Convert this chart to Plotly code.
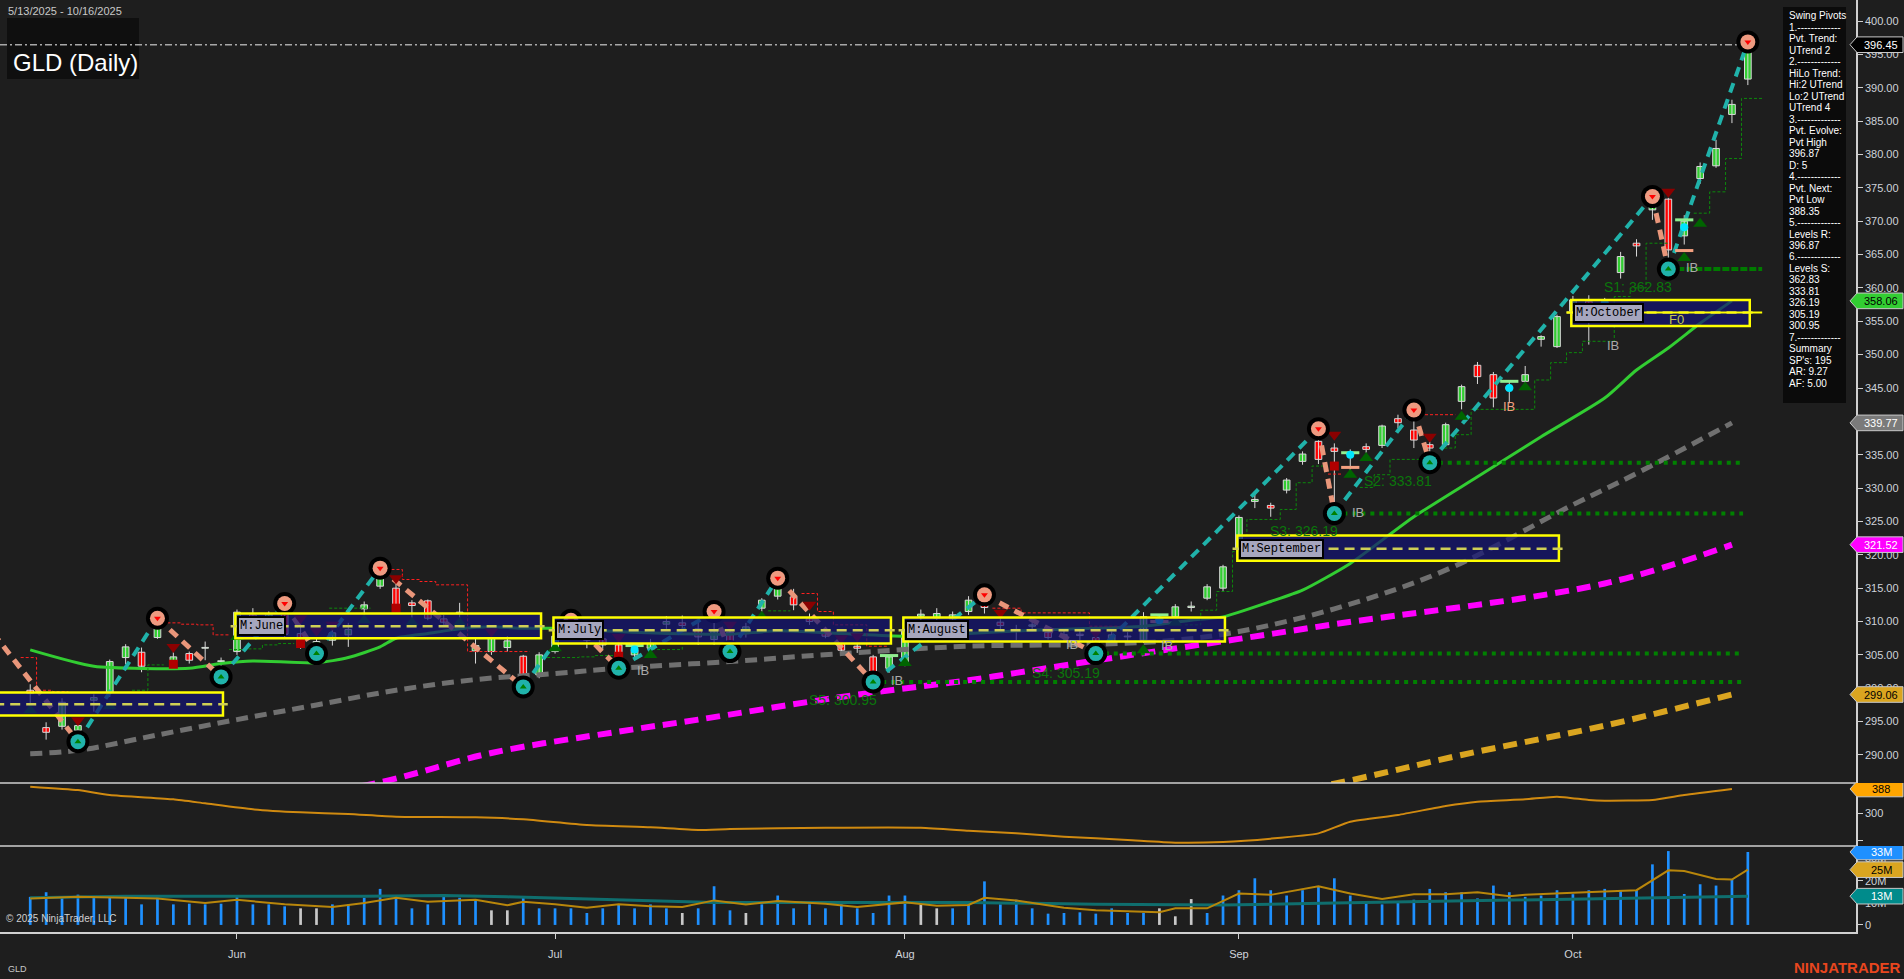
import plotly.graph_objects as go
import pandas as pd

# ------------------------------------------------------------------ data
HOLIDAYS = ["2025-05-26", "2025-06-19", "2025-07-04", "2025-09-01"]
DATES = [d for d in pd.bdate_range("2025-05-13", "2025-10-16")
         if d.strftime("%Y-%m-%d") not in HOLIDAYS]

OPEN = [299.7, 294.1, 294.3, 293.7, 298.2, 299.4, 304.6, 305.4, 307.6, 304.0,
        305.2, 306.0, 304.0, 305.5, 311.0, 310.6, 311.2, 308.2, 306.5, 307.2,
        308.0, 311.9, 315.3, 315.0, 312.8, 313.1, 310.4, 311.2, 305.6, 305.5,
        306.1, 304.8, 302.0, 305.5, 308.0, 308.7, 307.4, 306.5, 305.0, 306.0,
        309.6, 309.8, 308.9, 307.3, 308.4, 308.2, 312.0, 313.8, 313.7, 310.4,
        308.3, 306.7, 306.3, 304.7, 303.0, 303.8, 310.8, 310.5, 310.4, 311.5,
        312.9, 309.9, 308.8, 309.3, 308.4, 308.0, 308.1, 307.6, 306.8, 307.8,
        307.2, 310.5, 310.7, 312.1, 313.5, 315.0, 320.9, 328.0, 327.4, 329.7,
        334.0, 337.0, 336.0, 335.0, 336.2, 336.4, 340.4, 338.7, 336.5, 336.5,
        343.0, 348.4, 347.0, 344.8, 346.0, 352.3, 351.2, 356.5, 358.0, 356.0,
        362.3, 366.7, 371.7, 373.3, 367.8, 376.4, 378.3, 386.0, 391.3]
HIGH = [300.6, 294.9, 298.5, 294.6, 299.1, 304.3, 306.6, 306.1, 310.5, 305.4,
        305.5, 307.0, 304.6, 311.8, 312.0, 311.5, 312.7, 310.6, 307.5, 309.3,
        309.8, 313.0, 318.0, 315.8, 313.2, 313.3, 311.0, 312.8, 307.5, 307.9,
        307.8, 305.0, 305.4, 308.3, 310.2, 309.0, 308.2, 306.9, 306.1, 307.4,
        310.8, 310.9, 310.2, 311.5, 308.8, 309.8, 313.5, 316.5, 314.9, 311.2,
        308.9, 307.3, 306.8, 305.0, 304.9, 309.0, 311.8, 312.0, 311.5, 313.8,
        314.0, 310.5, 309.5, 310.0, 308.9, 308.6, 308.6, 308.0, 308.5, 308.4,
        311.4, 311.0, 312.6, 313.0, 315.6, 318.5, 325.9, 329.2, 327.8, 331.5,
        335.5, 338.9, 336.7, 335.8, 336.7, 339.5, 341.0, 341.7, 337.0, 339.8,
        345.5, 348.9, 347.4, 346.0, 348.3, 352.9, 356.0, 358.8, 358.9, 358.5,
        365.4, 367.3, 373.7, 373.5, 370.9, 378.8, 382.2, 388.2, 396.87]
LOW = [297.0, 292.3, 293.8, 292.0, 296.5, 298.7, 303.6, 302.4, 307.4, 303.0,
       303.7, 304.2, 301.7, 305.0, 309.5, 309.6, 307.6, 305.9, 305.2, 306.4,
       306.2, 311.0, 314.9, 311.9, 310.3, 310.2, 309.5, 309.3, 303.7, 305.0,
       305.5, 300.2, 301.5, 305.2, 307.3, 306.0, 305.9, 303.0, 304.3, 305.4,
       308.9, 308.8, 306.5, 306.5, 305.5, 307.6, 311.5, 313.3, 311.7, 309.5,
       307.5, 305.3, 305.3, 300.95, 302.3, 303.3, 309.8, 309.8, 309.5, 311.0,
       311.2, 308.5, 307.2, 308.5, 307.3, 307.1, 307.2, 305.19, 306.4, 307.1,
       306.8, 309.5, 310.2, 311.5, 313.2, 314.6, 320.6, 327.0, 325.7, 329.2,
       333.5, 333.6, 326.19, 332.6, 335.3, 336.0, 339.0, 336.0, 333.81, 336.2,
       341.8, 345.6, 342.1, 342.7, 345.7, 351.2, 351.0, 355.8, 351.5, 355.5,
       361.4, 364.7, 370.2, 362.83, 366.5, 375.6, 378.0, 384.7, 390.4]
CLOSE = [299.2, 293.4, 297.9, 294.4, 298.6, 304.0, 306.2, 303.3, 309.8, 304.7,
         304.2, 306.1, 304.1, 311.4, 310.6, 311.1, 308.1, 306.4, 307.0, 308.3,
         308.8, 312.5, 316.8, 312.1, 312.4, 310.5, 309.9, 311.4, 306.4, 307.6,
         307.1, 301.9, 305.0, 307.8, 308.9, 307.2, 306.5, 304.5, 305.7, 306.7,
         310.0, 309.4, 307.7, 308.6, 307.0, 309.2, 313.2, 315.9, 312.5, 310.0,
         307.8, 305.7, 306.0, 302.5, 304.7, 308.6, 311.1, 311.2, 311.0, 313.2,
         312.1, 309.4, 308.7, 309.5, 307.6, 307.9, 307.9, 306.4, 308.0, 307.7,
         310.7, 310.1, 312.2, 312.3, 315.2, 318.2, 325.6, 328.3, 327.0, 331.2,
         335.1, 334.3, 335.5, 335.1, 335.8, 339.3, 339.8, 337.2, 336.0, 339.5,
         345.2, 346.7, 343.5, 345.2, 347.0, 352.7, 355.7, 358.2, 355.2, 357.8,
         364.7, 366.3, 372.4, 365.7, 370.0, 378.2, 380.9, 387.5, 396.45]
VOLUME_M = [12.7, 14.8, 12.3, 13.7, 12.3, 12.7, 12.7, 9.3, 12.3, 9.3,
            9.6, 9.3, 9.6, 13.3, 9.3, 9.3, 8.4, 7.5, 7.5, 9.3,
            9.3, 12.3, 16.3, 12.3, 7.5, 9.3, 13.3, 12.3, 11.4, 6.6,
            6.6, 12.7, 7.5, 7.5, 7.5, 5.4, 7.5, 9.3, 7.5, 9.3,
            7.5, 5.4, 7.5, 17.5, 6.6, 5.4, 9.3, 13.3, 7.5, 9.3,
            7.5, 9.3, 7.5, 5.4, 13.3, 13.3, 9.3, 7.5, 7.5, 9.3,
            19.7, 9.3, 11.4, 7.5, 5.1, 5.4, 5.7, 5.1, 7.5, 5.4,
            5.4, 7.5, 3.9, 11.7, 5.4, 13.3, 15.7, 21.1, 15.7, 13.3,
            15.7, 17.2, 21.1, 13.3, 10.6, 9.3, 10.6, 11.4, 16.3, 14.8,
            14.8, 12.0, 17.8, 14.8, 12.7, 13.3, 15.7, 13.9, 15.7, 16.3,
            15.7, 15.7, 27.4, 33.4, 14.0, 18.4, 17.8, 20.8, 33.0]
VOLUME_GRAY_BARS = [17, 18, 29, 30, 41, 45, 56, 57, 71, 72, 73]

# moving averages (bar index, value)
MA_FAST_BARS = [0, 4, 10, 12, 14, 18, 20, 22, 23, 25, 27, 29, 31, 33, 36, 40, 44, 47, 51,
                55, 59, 63, 67, 70, 73, 75, 78, 80, 83, 87, 91, 95, 99, 101, 103, 105, 107]
MA_FAST = [305.75, 303.3, 303.0, 303.7, 304.1, 303.8, 304.6, 306.2, 307.5, 308.2, 308.9,
           309.2, 309.0, 309.0, 308.6, 308.2, 308.1, 308.6, 308.2, 307.8, 308.2, 308.7,
           309.0, 309.3, 310.2, 310.7, 313.0, 314.7, 318.7, 325.7, 331.7, 337.7, 343.5,
           347.7, 351.0, 354.7, 358.06]
MA_MID_BARS = [0, 3, 8, 13, 18, 23, 28, 33, 37, 44, 51, 59, 67, 72, 76, 82, 89, 97, 101, 107]
MA_MID = [290.2, 290.7, 293.0, 295.3, 297.5, 299.7, 301.3, 302.2, 303.0, 304.0, 305.2,
          306.3, 306.6, 307.2, 308.5, 311.9, 317.7, 327.5, 332.2, 339.77]
MA_SLOW_BARS = [14, 22, 29, 37, 42, 51, 59, 62, 69, 76, 82, 99, 107]
MA_SLOW = [282.6, 285.9, 290.3, 293.5, 295.3, 298.7, 301.2, 302.3, 304.9, 307.4, 309.6,
           315.7, 321.52]
MA_LONG_BARS = [75, 82, 90, 99, 107]
MA_LONG = [282.8, 285.7, 290.0, 294.4, 299.06]

# oscillator (middle panel)
OSC_BARS = [0, 3, 5, 9, 11, 14, 17, 20, 23, 28, 31, 35, 39, 42, 44, 50, 56, 59, 62, 65,
            69, 72, 75, 78, 81, 83, 86, 89, 91, 94, 96, 98, 99, 102, 104, 107]
OSC = [396.6, 384, 366, 350, 335.4, 313.4, 302.4, 296.3, 286.5, 284, 276.8, 256, 247.4,
       237.7, 241.3, 246, 246, 235.2, 225.4, 213.2, 201, 191.2, 193.6, 205.9, 225.4, 268.2,
       292.7, 325.7, 341.5, 350.1, 359.9, 347.7, 345.2, 347.7, 366, 388]

# volume averages (bar index, millions)
VOL_FAST_BARS = [0, 3, 6, 8, 11, 13, 16, 19, 21, 23, 25, 28, 30, 31, 33, 35, 37, 39, 41,
                 43, 45, 47, 50, 52, 55, 57, 59, 60, 62, 65, 67, 69, 71, 72, 74, 76, 78,
                 81, 83, 85, 87, 89, 91, 93, 94, 97, 99, 101, 103, 104, 106, 107, 108]
VOL_FAST = [11.9, 12.7, 12.3, 11.9, 9.9, 11.4, 9.3, 8.1, 9.9, 12.3, 10.5, 11.4, 8.9, 10.5,
            9.3, 7.8, 9.3, 8.4, 8.1, 11.1, 9.3, 10.8, 9.6, 8.1, 10.2, 8.7, 9.0, 12.3, 11.1,
            7.8, 6.6, 6.0, 5.7, 7.5, 7.5, 14.2, 13.6, 17.5, 14.2, 11.7, 13.9, 13.9, 14.8,
            13.0, 13.6, 14.5, 15.1, 15.7, 24.7, 24.4, 20.8, 20.5, 25.0]
VOL_SLOW_BARS = [0, 6, 21, 26, 30, 36, 43, 52, 59, 67, 75, 82, 90, 98, 104, 108]
VOL_SLOW = [12.3, 13.0, 13.0, 13.3, 12.7, 11.4, 10.2, 10.2, 10.2, 9.3, 9.0, 9.9, 10.8,
            11.7, 12.7, 13.0]

# swing pivots (bar index, H/L) - first one lies before the visible data
PRE_PIVOT_BAR, PRE_PIVOT_PRICE = -3, 310.3
PIVOT_BARS = [3, 8, 12, 16, 18, 22, 31, 34, 37, 43, 44, 47, 53, 60, 67, 81, 82, 87, 88,
              102, 103, 108]
PIVOT_TYPES = ["L", "H", "L", "H", "L", "H", "L", "H", "L", "H", "L", "H", "L", "H", "L",
               "H", "L", "H", "L", "H", "L", "H"]

# support levels and the pivot bars they start from
LEVELS_S = [362.83, 333.81, 326.19, 305.19, 300.95]
LEVELS_S_BARS = [103, 88, 82, 67, 53]
LEVELS_S_LABEL_AT = [(101.1, 360.1), (86.0, 331.1), (80.1, 323.5), (65.1, 302.3), (51.1, 298.3)]

# monthly range boxes
BOX_MONTHS = [5, 6, 7, 8, 9, 10]
BOX_HIGH = [299.35, 311.2, 310.6, 310.6, 322.9, 358.2]
BOX_LOW = [295.9, 307.5, 306.7, 307.0, 319.1, 354.3]
BOX_MID = [297.6, 309.3, 308.7, 308.7, 320.9, 356.3]

# signal markers (bar, price)
SIG_UP = [(0, 296.7), (5, 297.3), (13, 307.7), (21, 310.2), (24, 309.8), (27, 309.8),
          (33, 306.0), (35, 308.4), (39, 305.0), (46, 310.7), (55, 303.8), (70, 305.7),
          (72, 309.8), (83, 332.0), (84, 334.5), (90, 340.7), (94, 345.1), (104, 364.5),
          (105, 369.6)]
SIG_DOWN = [(3, 295.2), (9, 306.2), (17, 310.5), (18, 308.6), (19, 309.5), (23, 316.5),
            (29, 308.5), (37, 307.7), (44, 309.5), (49, 312.5), (51, 307.5), (52, 307.8),
            (61, 311.3), (67, 308.3), (82, 338.0), (88, 337.7), (103, 374.4)]
RED_BLOCKS = [(9, 303.6), (17, 306.7), (23, 312.0), (37, 304.8), (82, 333.3)]
CYAN_DOTS = [(38, 305.8), (71, 310.2), (83, 335.0), (93, 345.0), (99, 357.7), (104, 369.1)]
CAPS_TOP = [(38, 306.4), (54, 304.9), (71, 311.0), (83, 335.3), (93, 346.0), (104, 370.2)]
CAPS_BOT = [(71, 310.0), (83, 333.1), (104, 365.6)]
IB_GRAY = [(38, 302.7), (54, 301.2), (65, 306.5), (71, 306.4), (83, 326.3), (99, 351.4),
           (104, 363.0)]
IB_SALMON = [(93, 342.2)]
F0_AT = (103.5, 355.3)

# trailing step lines
GREEN_STEPS = [
    [(6.4, 299.7), (7.4, 303.5), (8.4, 303.5)],
    [(12.5, 305.8), (13.6, 305.9), (14.6, 306.5), (15.6, 306.7), (16.6, 306.7)],
    [(18.8, 312.0), (21.4, 312.0)],
    [(32.5, 304.6), (34.5, 304.7), (35.5, 304.9), (37.0, 305.0)],
    [(39.1, 305.8), (41.0, 306.2)],
    [(46.4, 311.6), (47.8, 311.6)],
    [(72.6, 309.5), (73.6, 311.7), (74.6, 314.5), (75.6, 320.5), (76.5, 325.3), (78.6, 326.8),
     (79.6, 330.8), (80.6, 333.3), (81.6, 333.3)],
    [(83.6, 330.1), (84.5, 332.0), (85.5, 334.3), (87.9, 334.3)],
    [(88.6, 336.0), (89.6, 338.0), (90.6, 341.8), (94.6, 346.2), (95.6, 348.8), (96.6, 350.3),
     (97.6, 352.0), (99.6, 358.7), (100.6, 360.0), (101.6, 366.7), (103.1, 366.7)],
    [(104.6, 371.2), (105.6, 374.4), (106.6, 379.4), (107.6, 388.4), (108.9, 388.4)],
]
RED_STEPS = [
    [(-0.6, 304.6), (0.4, 299.7), (1.4, 299.5), (2.4, 299.5)],
    [(8.0, 309.8), (9.5, 309.6), (10.5, 309.5), (11.5, 308.0), (12.5, 308.0)],
    [(22.4, 317.8), (23.4, 316.3), (24.5, 316.0), (25.5, 315.5), (27.5, 305.5), (31.4, 305.5)],
    [(48.5, 314.2), (49.5, 311.5), (50.5, 309.5), (52.6, 306.3), (53.9, 306.3)],
    [(60.5, 312.0), (62.3, 311.3), (66.6, 309.3), (69.0, 309.3)],
    [(81.6, 332.1), (82.5, 332.1)],
    [(87.7, 341.0), (89.6, 341.0)],
]

PANEL_LINES = ["Swing Pivots", "1.-------------", "Pvt. Trend:", "UTrend 2", "2.-------------",
               "HiLo Trend:", "Hi:2 UTrend", "Lo:2 UTrend", "UTrend 4", "3.-------------",
               "Pvt. Evolve:", "Pvt High", "396.87", "D: 5", "4.-------------", "Pvt. Next:",
               "Pvt Low", "388.35", "5.-------------", "Levels R:", "396.87", "6.-------------",
               "Levels S:", "362.83", "333.81", "326.19", "305.19", "300.95", "7.-------------",
               "Summary", "SP's: 195", "AR: 9.27", "AF: 5.00"]

# ------------------------------------------------------------------ styling / layout
FONT = "Liberation Sans, Arial, sans-serif"
NARROW = "Liberation Sans Narrow, Liberation Sans, Arial, sans-serif"
MONO = "Liberation Mono, DejaVu Sans Mono, monospace"
BG = "#1e1e1e"
AXIS_C = "#cfd3da"
W, H = 1904, 979
PLOT_W, PLOT_H = 1856.0, 932.0
PRICE_RANGE = [285.8, 403.15]
OSC_RANGE = [179, 410]
VOL_RANGE = [-3.2, 35.7]
X_RANGE = [-1.90, 114.80]


def dom(top_px, bot_px):
    return [1 - bot_px / PLOT_H, 1 - top_px / PLOT_H]


def py(px):  # paper y from pixel row (plot area top = 0)
    return 1 - px / PLOT_H


def pxx(px):
    return px / PLOT_W


X = list(range(len(DATES)))
N = len(X)

fig = go.Figure()
shapes, annos = [], []

# ---------------- volume panel
vcol = ["#c8c8c8" if i in VOLUME_GRAY_BARS else "#1e90ff" for i in X]
fig.add_trace(go.Bar(x=X, y=VOLUME_M, width=0.17, marker=dict(color=vcol, line=dict(width=0)),
                     yaxis="y3", hoverinfo="skip"))
fig.add_trace(go.Scatter(x=VOL_SLOW_BARS, y=VOL_SLOW, yaxis="y3", mode="lines",
                         line=dict(color="#0f6e6e", width=3), hoverinfo="skip"))
fig.add_trace(go.Scatter(x=VOL_FAST_BARS, y=VOL_FAST, yaxis="y3", mode="lines",
                         line=dict(color="#b8860b", width=2), hoverinfo="skip"))

# ---------------- oscillator panel
fig.add_trace(go.Scatter(x=OSC_BARS, y=OSC, yaxis="y2", mode="lines",
                         line=dict(color="#d08a10", width=2, shape="spline", smoothing=0.5),
                         hoverinfo="skip"))

# ---------------- candles
wx, wy = [], []
for i in X:
    wx += [i, i, None]
    wy += [LOW[i], HIGH[i], None]
fig.add_trace(go.Scatter(x=wx, y=wy, mode="lines", line=dict(color="#d9d9d9", width=1),
                         hoverinfo="skip"))
base = [min(o, c) for o, c in zip(OPEN, CLOSE)]
hgt = [max(abs(c - o), 0.12) for o, c in zip(OPEN, CLOSE)]
ccol = ["#32cd32" if c >= o else "#ff0000" for o, c in zip(OPEN, CLOSE)]
fig.add_trace(go.Bar(x=X, y=hgt, base=base, width=0.42,
                     marker=dict(color=ccol, line=dict(color="#d9d9d9", width=1)),
                     hoverinfo="skip"))

# ---------------- moving averages
fig.add_trace(go.Scatter(x=MA_LONG_BARS, y=MA_LONG, mode="lines",
                         line=dict(color="#daa520", width=6, dash="14px,8px", shape="spline"),
                         hoverinfo="skip"))
fig.add_trace(go.Scatter(x=MA_SLOW_BARS, y=MA_SLOW, mode="lines",
                         line=dict(color="#ff00ff", width=6, dash="14px,8px", shape="spline"),
                         hoverinfo="skip"))
fig.add_trace(go.Scatter(x=MA_MID_BARS, y=MA_MID, mode="lines",
                         line=dict(color="#707070", width=5, dash="12px,7px", shape="spline"),
                         hoverinfo="skip"))
fig.add_trace(go.Scatter(x=MA_FAST_BARS, y=MA_FAST, mode="lines",
                         line=dict(color="#32cd32", width=3, shape="spline", smoothing=0.6),
                         hoverinfo="skip"))


def steps_trace(segs, color):
    sx, sy = [], []
    for seg in segs:
        for a, b in seg:
            sx.append(a)
            sy.append(b)
        sx.append(None)
        sy.append(None)
    return go.Scatter(x=sx, y=sy, mode="lines", connectgaps=False,
                      line=dict(color=color, width=1, dash="3px,2px", shape="hv"),
                      hoverinfo="skip")


fig.add_trace(steps_trace(GREEN_STEPS, "#0c8a0c"))
fig.add_trace(steps_trace(RED_STEPS, "#ff2020"))

# ---------------- support levels
last_bar = X[-1]
for k, (lvl, b0) in enumerate(zip(LEVELS_S, LEVELS_S_BARS)):
    if k == 0:
        ln = dict(color="#007a00", width=4, dash="7px,2px")
        xe = last_bar + 0.9
    else:
        ln = dict(color="#008000", width=4, dash="4px,5px")
        xe = last_bar - 0.3
    fig.add_trace(go.Scatter(x=[b0, xe], y=[lvl, lvl], mode="lines", line=ln, hoverinfo="skip"))
    lx, ly = LEVELS_S_LABEL_AT[k]
    annos.append(dict(x=lx, y=ly, xref="x", yref="y", text=f"S{k+1}: {lvl:.2f}",
                      showarrow=False, font=dict(family=NARROW, size=14, color="#0b760b")))

# ---------------- last price dash-dot line
fig.add_trace(go.Scatter(x=[X_RANGE[0], last_bar], y=[CLOSE[-1], CLOSE[-1]], mode="lines",
                         line=dict(color="#a8a8a8", width=1.5, dash="7px,3px,2px,3px"),
                         hoverinfo="skip"))

# ---------------- zigzag
pv_price = [HIGH[b] if t == "H" else LOW[b] for b, t in zip(PIVOT_BARS, PIVOT_TYPES)]
zb = [PRE_PIVOT_BAR] + PIVOT_BARS
zp = [PRE_PIVOT_PRICE] + pv_price
zt = ["H"] + PIVOT_TYPES
upx, upy, dnx, dny = [], [], [], []
for j in range(len(zb) - 1):
    seg_x = [zb[j], zb[j + 1], None]
    seg_y = [zp[j], zp[j + 1], None]
    if zt[j] == "L":
        upx += seg_x
        upy += seg_y
    else:
        dnx += seg_x
        dny += seg_y
fig.add_trace(go.Scatter(x=dnx, y=dny, mode="lines",
                         line=dict(color="#e9967a", width=5, dash="10px,7px"), hoverinfo="skip"))
fig.add_trace(go.Scatter(x=upx, y=upy, mode="lines",
                         line=dict(color="#20b2aa", width=4, dash="10px,7px"), hoverinfo="skip"))

# ---------------- markers


def pts(lst):
    return [p[0] for p in lst], [p[1] for p in lst]


ux, uy = pts(SIG_UP)
fig.add_trace(go.Scatter(x=ux, y=uy, mode="markers", hoverinfo="skip",
                         marker=dict(symbol="triangle-up", size=12, color="#006400")))
dx, dy = pts(SIG_DOWN)
fig.add_trace(go.Scatter(x=dx, y=dy, mode="markers", hoverinfo="skip",
                         marker=dict(symbol="triangle-down", size=12, color="#8b0000")))
rx, ry = pts(RED_BLOCKS)
fig.add_trace(go.Scatter(x=rx, y=ry, mode="markers", hoverinfo="skip",
                         marker=dict(symbol="square", size=9, color="#b00000")))
tx, ty = pts(CAPS_TOP)
fig.add_trace(go.Scatter(x=tx, y=ty, mode="markers", hoverinfo="skip",
                         marker=dict(symbol="line-ew", size=13,
                                     line=dict(color="#90ee90", width=3))))
bx, by = pts(CAPS_BOT)
fig.add_trace(go.Scatter(x=bx, y=by, mode="markers", hoverinfo="skip",
                         marker=dict(symbol="line-ew", size=13,
                                     line=dict(color="#f4a080", width=3))))
cx, cy = pts(CYAN_DOTS)
fig.add_trace(go.Scatter(x=cx, y=cy, mode="markers", hoverinfo="skip",
                         marker=dict(symbol="circle", size=8, color="#00e5ff")))

# pivot circles
hx = [b for b, t in zip(PIVOT_BARS, PIVOT_TYPES) if t == "H"]
hy = [p for p, t in zip(pv_price, PIVOT_TYPES) if t == "H"]
lx_ = [b for b, t in zip(PIVOT_BARS, PIVOT_TYPES) if t == "L"]
ly_ = [p for p, t in zip(pv_price, PIVOT_TYPES) if t == "L"]
fig.add_trace(go.Scatter(x=hx + lx_, y=hy + ly_, mode="markers", hoverinfo="skip",
                         marker=dict(symbol="circle", size=23, color="#000000")))
fig.add_trace(go.Scatter(x=hx, y=hy, mode="markers", hoverinfo="skip",
                         marker=dict(symbol="circle", size=15, color="#ee9a80")))
fig.add_trace(go.Scatter(x=lx_, y=ly_, mode="markers", hoverinfo="skip",
                         marker=dict(symbol="circle", size=15, color="#20b2aa")))
fig.add_trace(go.Scatter(x=hx, y=hy, mode="markers", hoverinfo="skip",
                         marker=dict(symbol="triangle-down", size=6, color="#ff0000")))
fig.add_trace(go.Scatter(x=lx_, y=ly_, mode="markers", hoverinfo="skip",
                         marker=dict(symbol="triangle-up", size=6, color="#008000")))

# IB / F0 texts
for (bx_, by_) in IB_GRAY:
    annos.append(dict(x=bx_, y=by_, xref="x", yref="y", text="IB", showarrow=False,
                      xanchor="left", font=dict(family=NARROW, size=13, color="#a9a9a9")))
for (bx_, by_) in IB_SALMON:
    annos.append(dict(x=bx_, y=by_, xref="x", yref="y", text="IB", showarrow=False,
                      xanchor="center", font=dict(family=NARROW, size=13, color="#f0a080")))
annos.append(dict(x=F0_AT[0], y=F0_AT[1], xref="x", yref="y", text="F0", showarrow=False,
                  font=dict(family=NARROW, size=13, color="#c8c850")))

# ---------------- monthly boxes
month_first, month_last = {}, {}
for i, d in enumerate(DATES):
    month_first.setdefault(d.month, i)
    month_last[d.month] = i
for k, m in enumerate(BOX_MONTHS):
    f, l = month_first[m], month_last[m]
    if f == 0:
        before = len(pd.bdate_range(DATES[0].replace(day=1), DATES[0])) - 1
        x0 = -before
    else:
        x0 = f - 0.1
    x1 = l + 0.12
    shapes.append(dict(type="rect", xref="x", yref="y", x0=x0, x1=x1, y0=BOX_LOW[k], y1=BOX_HIGH[k],
                       fillcolor="rgba(20,20,115,0.72)", line=dict(color="#ffff00", width=2.5),
                       layer="above"))
    shapes.append(dict(type="line", xref="x", yref="y", x0=x0 - 0.3, x1=x1 + 0.3,
                       y0=BOX_MID[k], y1=BOX_MID[k], layer="above",
                       line=dict(color="#cfcf55", width=2.5, dash="10px,6px")))
    if k == len(BOX_MONTHS) - 1:
        shapes.append(dict(type="line", xref="x", yref="y", x0=x0 - 0.3, x1=last_bar + 0.9,
                           y0=BOX_MID[k], y1=BOX_MID[k], layer="above",
                           line=dict(color="#ffff00", width=2)))
    if f > 0:
        annos.append(dict(x=f, y=BOX_MID[k], xref="x", yref="y", xanchor="left", yanchor="middle",
                          text="M:" + DATES[f].strftime("%B"), showarrow=False,
                          font=dict(family=MONO, size=12, color="#000000"),
                          bgcolor="#a6a6be", bordercolor="#000000", borderwidth=2, borderpad=1))

# ---------------- title, info texts
shapes.append(dict(type="rect", xref="paper", yref="paper", x0=pxx(7), x1=pxx(139),
                   y0=py(79), y1=py(18), fillcolor="#0f0f0f", line=dict(width=0), layer="below"))
annos.append(dict(x=pxx(11), y=py(62), xref="paper", yref="paper", xanchor="left",
                  yanchor="middle", text="GLD (Daily)", showarrow=False,
                  font=dict(family=FONT, size=24, color="#ffffff")))
annos.append(dict(x=pxx(6), y=py(11), xref="paper", yref="paper", xanchor="left",
                  yanchor="middle", showarrow=False,
                  text=f"{DATES[0].month}/{DATES[0].day}/{DATES[0].year} - "
                       f"{DATES[-1].month}/{DATES[-1].day}/{DATES[-1].year}",
                  font=dict(family=FONT, size=11, color="#c8c8c8")))
annos.append(dict(x=pxx(4), y=py(918), xref="paper", yref="paper", xanchor="left",
                  yanchor="middle", showarrow=False, text="© 2025 NinjaTrader, LLC",
                  font=dict(family=FONT, size=10, color="#d0d0d0")))
annos.append(dict(x=pxx(6), y=py(969), xref="paper", yref="paper", xanchor="left",
                  yanchor="middle", showarrow=False, text="GLD",
                  font=dict(family=FONT, size=9, color="#c8c8c8")))
annos.append(dict(x=pxx(1903), y=py(968), xref="paper", yref="paper", xanchor="right",
                  yanchor="middle", showarrow=False, text="<b>NINJATRADER</b>",
                  font=dict(family=FONT, size=15, color="#e8461e")))

# swing pivot panel
shapes.append(dict(type="rect", xref="paper", yref="paper", x0=pxx(1783), x1=pxx(1846),
                   y0=py(403), y1=py(7), fillcolor="#0b0b0b", line=dict(width=0), layer="above"))
for k, t in enumerate(PANEL_LINES):
    annos.append(dict(x=pxx(1786.5), y=py(15.7 + k * 11.49), xref="paper", yref="paper",
                      xanchor="left", yanchor="middle", text=t, showarrow=False,
                      font=dict(family=FONT, size=10, color="#ffffff")))

# panel separators
for ypx in (783, 846):
    shapes.append(dict(type="line", xref="paper", yref="paper", x0=0, x1=1, y0=py(ypx), y1=py(ypx),
                       line=dict(color="#d0d0d0", width=1.5), layer="above"))


# ---------------- value flags on the right scale
def flag(yref, val, half, bg, fg, text):
    x_tip, x_sh, x_end = pxx(1850), pxx(1857), pxx(1903)
    path = (f"M {x_tip},{val} L {x_sh},{val + half} L {x_end},{val + half} "
            f"L {x_end},{val - half} L {x_sh},{val - half} Z")
    shapes.append(dict(type="path", xref="paper", yref=yref, path=path, fillcolor=bg,
                       line=dict(color="#c8c8c8", width=1), layer="above"))
    annos.append(dict(x=pxx(1881), y=val, xref="paper", yref=yref, xanchor="center",
                      yanchor="middle", text=text, showarrow=False,
                      font=dict(family=FONT, size=11, color=fg)))


ppx = 783 / (PRICE_RANGE[1] - PRICE_RANGE[0])
opx = 63 / (OSC_RANGE[1] - OSC_RANGE[0])
vpx = 86 / (VOL_RANGE[1] - VOL_RANGE[0])
flag("y", CLOSE[-1], 7.8 / ppx, "#000000", "#ffffff", f"{CLOSE[-1]:.2f}")
flag("y", MA_FAST[-1], 7.8 / ppx, "#32cd32", "#000000", f"{MA_FAST[-1]:.2f}")
flag("y", MA_MID[-1], 7.8 / ppx, "#7a7a7a", "#ffffff", f"{MA_MID[-1]:.2f}")
flag("y", MA_SLOW[-1], 7.8 / ppx, "#ff00ff", "#ffffff", f"{MA_SLOW[-1]:.2f}")
flag("y", MA_LONG[-1], 7.8 / ppx, "#daa520", "#000000", f"{MA_LONG[-1]:.2f}")
flag("y2", OSC[-1], 7.8 / opx, "#ffa500", "#000000", f"{OSC[-1]:.0f}")
flag("y3", VOLUME_M[-1], 7.8 / vpx, "#1e90ff", "#ffffff", f"{VOLUME_M[-1]:.0f}M")
flag("y3", VOL_FAST[-1], 7.8 / vpx, "#daa520", "#000000", f"{VOL_FAST[-1]:.0f}M")
flag("y3", VOL_SLOW[-1], 7.8 / vpx, "#008b8b", "#ffffff", f"{VOL_SLOW[-1]:.0f}M")

# ---------------- axes
tick_idx, tick_txt = [], []
for i in range(1, N):
    if DATES[i].month != DATES[i - 1].month:
        tick_idx.append(i)
        tick_txt.append(DATES[i].strftime("%b"))

price_ticks = list(range(290, 401, 5))
common_y = dict(side="right", showgrid=False, zeroline=False, showline=True,
                linecolor="#d0d0d0", linewidth=1.5, ticks="outside", ticklen=5,
                tickcolor="#d0d0d0", tickfont=dict(family=FONT, size=11, color=AXIS_C),
                fixedrange=True, anchor="x")

fig.update_layout(
    width=W, height=H, margin=dict(l=0, r=W - PLOT_W, t=0, b=H - PLOT_H),
    paper_bgcolor=BG, plot_bgcolor=BG, showlegend=False, barmode="overlay",
    hovermode=False, shapes=shapes, annotations=annos,
    xaxis=dict(domain=[0, 1], range=X_RANGE, anchor="y3", showgrid=False, zeroline=False,
               showline=True, linecolor="#d0d0d0", linewidth=1.5, ticks="outside", ticklen=5,
               tickcolor="#d0d0d0", tickvals=tick_idx, ticktext=tick_txt, ticklabelstandoff=6,
               tickfont=dict(family=FONT, size=11, color=AXIS_C), fixedrange=True),
    yaxis=dict(domain=dom(0, 783), range=PRICE_RANGE, tickvals=price_ticks,
               ticktext=[f"{v:.2f}" for v in price_ticks], **common_y),
    yaxis2=dict(domain=dom(783, 846), range=OSC_RANGE, tickvals=[200, 300],
                ticktext=["", "300"], **common_y),
    yaxis3=dict(domain=dom(846, 932), range=VOL_RANGE, tickvals=[0, 10, 20, 30],
                ticktext=["0", "10M", "20M", "30M"], **common_y),
)

fig.write_html("out.html", config={"displayModeBar": False},
               post_script="document.body.style.margin='0px';document.body.style.overflow='hidden';")
